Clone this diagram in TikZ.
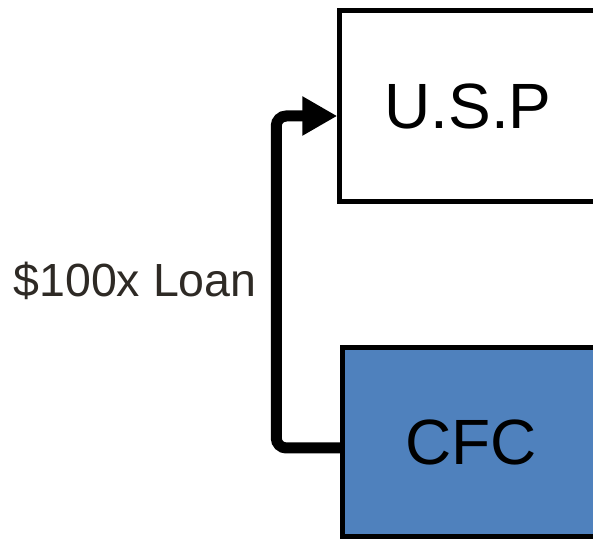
\documentclass[tikz,border=0pt]{standalone}
\usepackage{fontspec}
\setmainfont{Liberation Sans}
\usetikzlibrary{positioning}
\usetikzlibrary{arrows.meta}
\definecolor{cfcblue}{HTML}{4F81BD}
\definecolor{loangray}{HTML}{2E2A25}

\begin{document}
\begin{tikzpicture}[x=1pt, y=1pt, box/.style={rectangle, draw, line width=4.5pt, minimum width=257pt, minimum height=191pt, font=\fontsize{64}{64}\selectfont, fill=#1}, loan/.style={line width=11pt, rounded corners=10pt, -{Triangle[length=35pt,width=37pt]}}]
            \useasboundingbox (0,0) rectangle (593,540);
            \node[box={white}] (usp) at (468,434) {U.S.P};
            \node[box={cfcblue}, minimum height=189pt] (cfc) at (471,98) {CFC};
            \node[text=loangray, font=\fontsize{46.5}{46.5}\selectfont, anchor=base] (lbl) at (135,243) {\$100x Loan};

            \draw[loan] ([yshift=-6pt]cfc.west) -- ++(-64,0) |- ([yshift=-10pt]usp.west);
        \end{tikzpicture}
\end{document}
